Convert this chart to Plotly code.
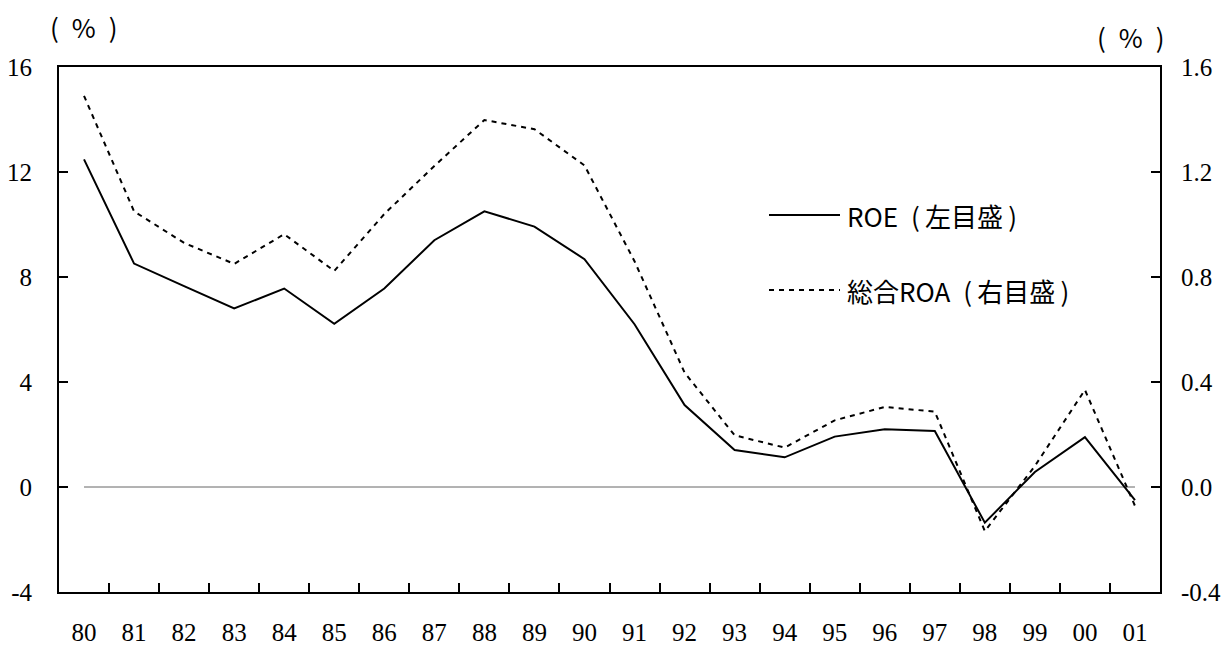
import plotly.graph_objects as go

years = ["80", "81", "82", "83", "84", "85", "86", "87", "88", "89", "90",
         "91", "92", "93", "94", "95", "96", "97", "98", "99", "00", "01"]
roe = [12.48, 8.51, 7.65, 6.8, 7.56, 6.22, 7.56, 9.4, 10.5, 9.92, 8.68,
       6.2, 3.12, 1.41, 1.13, 1.92, 2.2, 2.13, -1.36, 0.57, 1.9, -0.5]
roa = [1.49, 1.05, 0.93, 0.85, 0.963, 0.823, 1.04, 1.223, 1.398, 1.363, 1.225,
       0.86, 0.436, 0.197, 0.15, 0.254, 0.305, 0.287, -0.168, 0.08, 0.37, -0.072]

left_ticks = [-4, 0, 4, 8, 12, 16]
left_labels = ["-4", "0", "4", "8", "12", "16"]
right_ticks = [-0.4, 0.0, 0.4, 0.8, 1.2, 1.6]
right_labels = ["-0.4", "0.0", "0.4", "0.8", "1.2", "1.6"]

serif = "Liberation Serif"
cjk = "Noto Sans CJK JP"
en = "\u2002"
thin = "\u2009"

# plot box in pixels, used to place paper-referenced items
L, R, T, B = 59, 1160, 67, 592


def px(x):
    return (x - L) / (R - L)


def py(y):
    return (B - y) / (B - T)


fig = go.Figure()
fig.add_trace(go.Scatter(x=years, y=roe, mode="lines", name="ROE（左目盛）",
                         line=dict(color="black", width=2), yaxis="y"))
fig.add_trace(go.Scatter(x=years, y=roa, mode="lines", name="総合ROA（右目盛）",
                         line=dict(color="black", width=2, dash="5px,5px"), yaxis="y2"))

# zero reference line across the data span
fig.add_shape(type="line", xref="x", yref="y", x0=0, x1=len(years) - 1, y0=0, y1=0,
              line=dict(color="#666666", width=1), layer="below")

# legend drawn manually
fig.add_shape(type="line", xref="paper", yref="paper", x0=px(769), x1=px(840),
              y0=py(215), y1=py(215), line=dict(color="black", width=2))
fig.add_shape(type="line", xref="paper", yref="paper", x0=px(769), x1=px(840),
              y0=py(290), y1=py(290), line=dict(color="black", width=2, dash="5px,5px"))
fig.add_annotation(xref="paper", yref="paper", x=px(845), y=py(215),
                   text="ROE" + en + "(" + thin + "左目盛" + thin + ")", showarrow=False,
                   xanchor="left", yanchor="middle",
                   font=dict(family=cjk, size=26, color="black"))
fig.add_annotation(xref="paper", yref="paper", x=px(845), y=py(290),
                   text="総合ROA" + en + "(" + thin + "右目盛" + thin + ")", showarrow=False,
                   xanchor="left", yanchor="middle",
                   font=dict(family=cjk, size=26, color="black"))

# unit labels
fig.add_annotation(xref="paper", yref="paper", x=px(84), y=py(26),
                   text="(" + en + "%" + en + ")", showarrow=False, xanchor="center", yanchor="middle",
                   font=dict(family=cjk, size=26, color="black"))
fig.add_annotation(xref="paper", yref="paper", x=px(1131), y=py(36),
                   text="(" + en + "%" + en + ")", showarrow=False, xanchor="center", yanchor="middle",
                   font=dict(family=cjk, size=26, color="black"))

axis_common = dict(showgrid=False, showline=True, linecolor="black", linewidth=2,
                   ticks="inside", ticklen=9, tickwidth=2, tickcolor="black",
                   tickfont=dict(family=serif, size=25, color="black"), automargin=False)

fig.update_layout(
    width=1229, height=646,
    margin=dict(l=L, r=1229 - R, t=T, b=646 - B),
    paper_bgcolor="white", plot_bgcolor="white",
    showlegend=False,
    xaxis=dict(type="category", range=[-0.5, len(years) - 0.5], mirror=True,
               tickson="boundaries", ticklabelstandoff=17, **axis_common),
    yaxis=dict(range=[-4, 16], tickvals=left_ticks, ticktext=left_labels, zeroline=False,
               ticklabelstandoff=20, **axis_common),
    yaxis2=dict(range=[-0.4, 1.6], tickvals=right_ticks, ticktext=right_labels,
                overlaying="y", side="right", zeroline=False,
                ticklabelstandoff=14, **axis_common),
)

fig.write_html("out.html")
